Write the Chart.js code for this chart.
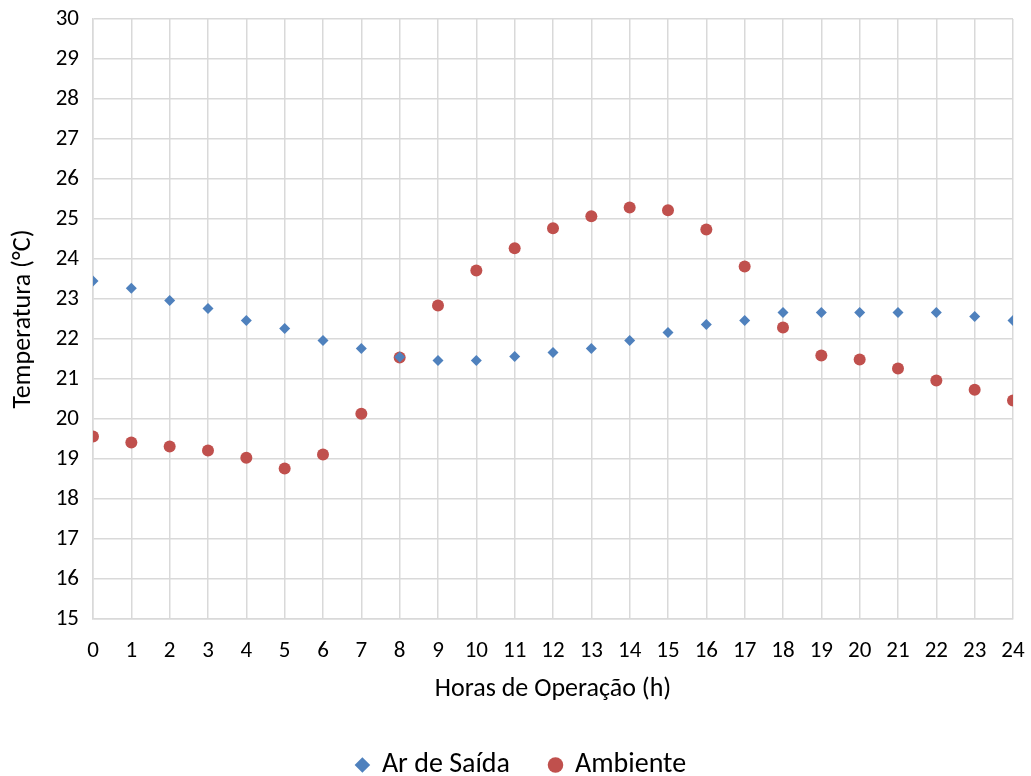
<!DOCTYPE html>
<html>
<head>
<meta charset="utf-8">
<script src="https://cdn.jsdelivr.net/npm/chart.js@4"></script>
<style>
  html, body { margin: 0; padding: 0; background: #fff; }
  #wrap { width: 1031px; height: 776px; }
</style>
</head>
<body>
<div id="wrap"><canvas id="grafico" width="1031" height="776"></canvas></div>
<script>
const horas = [0, 1, 2, 3, 4, 5, 6, 7, 8, 9, 10, 11, 12, 13, 14, 15, 16, 17, 18, 19, 20, 21, 22, 23, 24];
const arSaida = [23.45, 23.27, 22.96, 22.76, 22.46, 22.26, 21.96, 21.76, 21.55, 21.46, 21.46, 21.56, 21.66, 21.76,
    21.96, 22.16, 22.36, 22.46, 22.66, 22.66, 22.66, 22.66, 22.66, 22.56, 22.46];
const ambiente = [19.56, 19.41, 19.31, 19.21, 19.03, 18.76, 19.11, 20.13, 21.54, 22.84, 23.71, 24.27, 24.77, 25.07,
    25.29, 25.22, 24.74, 23.81, 22.29, 21.59, 21.49, 21.26, 20.96, 20.73, 20.46];

const fonte = "Carlito, Calibri, Lato, 'Open Sans', sans-serif";

function pontos(valores) {
    return horas.map((h, i) => ({ x: h, y: valores[i] }));
}

// empurra a legenda um pouco para a direita, como no original
const deslocaLegenda = {
    id: 'deslocaLegenda',
    afterLayout(chart) {
        chart.legend.left += 15;
        chart.legend.right += 15;
    }
};

new Chart(document.getElementById('grafico'), {
    type: 'scatter',
    data: {
        datasets: [{
            label: 'Ar de Saída',
            data: pontos(arSaida),
            pointStyle: 'rectRot',
            pointRadius: 5.5,
            backgroundColor: '#4F81BD',
            borderColor: '#4F81BD',
            borderWidth: 0
        }, {
            label: 'Ambiente',
            data: pontos(ambiente),
            pointStyle: 'circle',
            pointRadius: 6,
            backgroundColor: '#C0504D',
            borderColor: '#C0504D',
            borderWidth: 0
        }]
    },
    plugins: [deslocaLegenda],
    options: {
        responsive: false,
        animation: false,
        layout: { padding: { top: 19, right: 18, bottom: -13, left: 0 } },
        plugins: {
            tooltip: { enabled: false },
            legend: {
                position: 'bottom',
                labels: {
                    usePointStyle: true,
                    boxWidth: 11,
                    boxHeight: 11,
                    padding: 40,
                    color: '#000',
                    font: { family: fonte, size: 28 }
                }
            }
        },
        scales: {
            x: {
                type: 'linear',
                min: 0,
                max: 24,
                ticks: { stepSize: 1, color: '#000', font: { family: fonte, size: 23 }, padding: 18 },
                grid: { color: '#d9d9d9', lineWidth: 1.5, drawTicks: false },
                border: { color: '#d9d9d9', width: 1.5 },
                title: {
                    display: true,
                    text: 'Horas de Operação (h)',
                    color: '#000',
                    font: { family: fonte, size: 26 },
                    padding: { top: 10, bottom: 6 }
                },
                afterFit: (escala) => {
                    escala.height = 92;
                    escala.paddingLeft = 0;
                    escala.paddingRight = 0;
                }
            },
            y: {
                min: 15,
                max: 30,
                ticks: { stepSize: 1, color: '#000', font: { family: fonte, size: 23 }, padding: 14 },
                grid: { color: '#d9d9d9', lineWidth: 1.5, drawTicks: false },
                border: { color: '#d9d9d9', width: 1.5 },
                title: {
                    display: true,
                    text: 'Temperatura (°C)',
                    color: '#000',
                    font: { family: fonte, size: 26 },
                    padding: { top: 8, bottom: 4 }
                },
                afterFit: (escala) => {
                    escala.width = 93;
                    escala.paddingTop = 0;
                    escala.paddingBottom = 0;
                }
            }
        }
    }
});
</script>
</body>
</html>
